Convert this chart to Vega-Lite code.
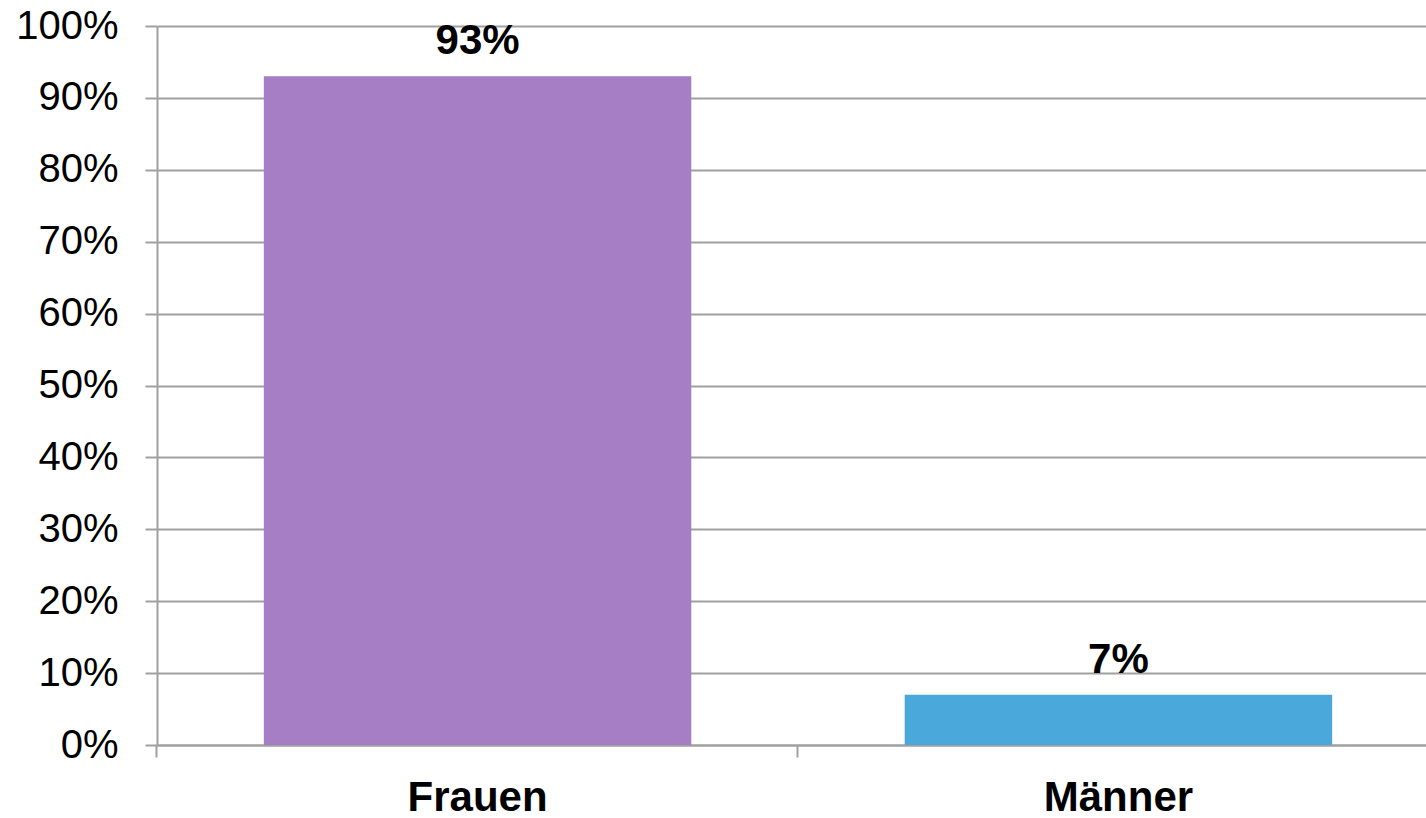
{
  "$schema": "https://vega.github.io/schema/vega-lite/v6.json",
  "width": 1282,
  "height": 719,
  "autosize": {"type": "none"},
  "padding": {"left": 157, "top": 26, "right": 0, "bottom": 73},
  "background": "white",
  "config": {
    "view": {"stroke": null},
    "font": "Liberation Sans"
  },
  "data": {
    "values": [
      {"Geschlecht": "Frauen", "Anteil": 0.93},
      {"Geschlecht": "Männer", "Anteil": 0.07}
    ]
  },
  "encoding": {
    "x": {
      "field": "Geschlecht",
      "type": "nominal",
      "sort": null,
      "scale": {"paddingInner": 0.333, "paddingOuter": 0.1667},
      "axis": {
        "title": null,
        "labelAngle": 0,
        "labelFont": "Liberation Sans",
        "labelFontSize": 42,
        "labelFontWeight": "bold",
        "labelColor": "black",
        "labelPadding": 20,
        "tickSize": 12,
        "tickColor": "#a0a0a0",
        "tickWidth": 2,
        "bandPosition": -0.25,
        "domainColor": "#a0a0a0",
        "domainWidth": 2,
        "grid": false
      }
    },
    "y": {
      "field": "Anteil",
      "type": "quantitative",
      "scale": {"domain": [0, 1]},
      "axis": {
        "title": null,
        "format": ".0%",
        "values": [0, 0.1, 0.2, 0.3, 0.4, 0.5, 0.6, 0.7, 0.8, 0.9, 1],
        "labelFont": "Liberation Sans",
        "labelFontSize": 40,
        "labelColor": "black",
        "labelPadding": 27,
        "tickSize": 12,
        "tickColor": "#a0a0a0",
        "tickWidth": 2,
        "domainColor": "#a0a0a0",
        "domainWidth": 2,
        "grid": true,
        "gridColor": "#a0a0a0",
        "gridWidth": 2
      }
    }
  },
  "layer": [
    {
      "mark": {"type": "bar"},
      "encoding": {
        "color": {
          "field": "Geschlecht",
          "type": "nominal",
          "scale": {"domain": ["Frauen", "Männer"], "range": ["#a67ec5", "#4ba8db"]},
          "legend": null
        }
      }
    },
    {
      "mark": {
        "type": "text",
        "baseline": "alphabetic",
        "dy": -22,
        "fontSize": 42,
        "fontWeight": "bold",
        "font": "Liberation Sans",
        "color": "black"
      },
      "encoding": {
        "text": {"field": "Anteil", "type": "quantitative", "format": ".0%"}
      }
    }
  ]
}
